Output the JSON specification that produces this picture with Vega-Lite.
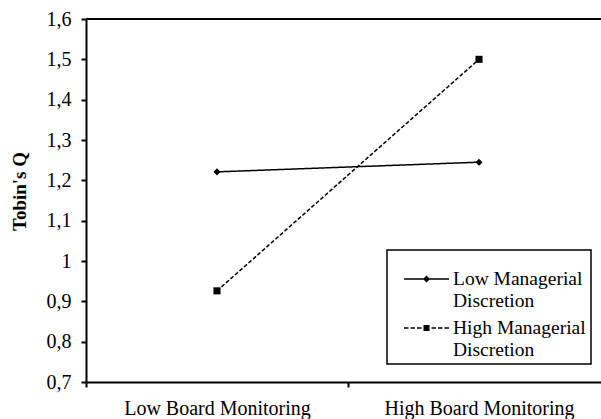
{
  "$schema": "https://vega.github.io/schema/vega-lite/v6.json",
  "width": 515,
  "height": 363,
  "autosize": {"type": "none"},
  "padding": {"left": 86, "top": 19, "right": 0, "bottom": 37},
  "background": "white",
  "config": {
    "view": {"stroke": null},
    "font": "Liberation Serif",
    "legend": {"strokeWidth": 1.5},
    "axis": {"labelFont": "Liberation Serif", "titleFont": "Liberation Serif", "labelColor": "black", "titleColor": "black", "domainColor": "black", "tickColor": "black", "domainWidth": 2, "tickWidth": 2, "tickSize": 5, "grid": false}
  },
  "data": {
    "values": [
      {"board": "Low Board Monitoring", "disc": "Low Managerial Discretion", "q": 1.221},
      {"board": "High Board Monitoring", "disc": "Low Managerial Discretion", "q": 1.245},
      {"board": "Low Board Monitoring", "disc": "High Managerial Discretion", "q": 0.926},
      {"board": "High Board Monitoring", "disc": "High Managerial Discretion", "q": 1.5}
    ]
  },
  "encoding": {
    "x": {
      "field": "board", "type": "nominal", "sort": ["Low Board Monitoring", "High Board Monitoring"],
      "scale": {"type": "band", "paddingInner": 0, "paddingOuter": 0, "range": [0, 524]},
      "axis": {"title": null, "labelAngle": 0, "labelFontSize": 20, "labelPadding": 11, "labelLimit": 400, "tickBand": "extent", "domainWidth": 2}
    },
    "y": {
      "field": "q", "type": "quantitative",
      "scale": {"domain": [0.7, 1.6], "nice": false, "zero": false},
      "axis": {"title": "Tobin's Q", "titleFontSize": 19, "titleFontWeight": "bold", "titleX": -67, "titleY": 172, "titleAngle": -90, "titleBaseline": "middle", "titleAlign": "center",
        "values": [0.7, 0.8, 0.9, 1.0, 1.1, 1.2, 1.3, 1.4, 1.5, 1.6],
        "labelExpr": "replace(format(datum.value, '.1~f'), '.', ',')", "labelFontSize": 20, "labelPadding": 10}
    }
  },
  "resolve": {"legend": {"strokeDash": "independent", "shape": "independent"}, "scale": {"shape": "independent"}},
  "layer": [
    {
      "mark": {"type": "rule", "color": "black", "strokeWidth": 2},
      "encoding": {"y": {"datum": 1.6}, "x": null}
    },
    {
      "mark": {"type": "line", "color": "black", "strokeWidth": 1.5},
      "encoding": {
        "detail": {"field": "disc"},
        "strokeDash": {"field": "disc", "type": "nominal", "scale": {"domain": ["Low Managerial Discretion", "High Managerial Discretion"], "range": [[1, 0], [4, 2]]}, "legend": null}
      }
    },
    {
      "mark": {"type": "point", "filled": true, "color": "black", "opacity": 1, "size": 50},
      "encoding": {
        "shape": {
          "field": "disc", "type": "nominal",
          "scale": {"domain": ["Low Managerial Discretion", "High Managerial Discretion"], "range": ["diamond", "square"]},
          "legend": null
        }
      }
    },
    {
      "transform": [{"filter": "datum.q > 100"}],
      "mark": {"type": "point", "filled": true, "color": "black", "opacity": 1},
      "encoding": {
        "shape": {
          "field": "disc", "type": "nominal",
          "scale": {"domain": ["Low Managerial Discretion", "High Managerial Discretion"],
            "range": [
              "M-0.52,-0.294H1.435V-0.228H-0.52ZM0.457,-0.413L0.609,-0.261L0.457,-0.109L0.305,-0.261Z",
              "M-0.522,-0.294H-0.326V-0.228H-0.522ZM-0.239,-0.294H-0.043V-0.228H-0.239ZM0.043,-0.294H0.239V-0.228H0.043ZM0.326,-0.391H0.587V-0.131H0.326ZM0.674,-0.294H0.87V-0.228H0.674ZM0.957,-0.294H1.152V-0.228H0.957ZM1.239,-0.294H1.435V-0.228H1.239Z"
            ]},
          "legend": {
            "title": " ", "titleFontSize": 1, "titlePadding": 5,
            "orient": "none", "legendX": 301, "legendY": 231,
            "strokeColor": "black", "padding": 5, "fillColor": "white",
            "symbolSize": 2116, "symbolFillColor": "black", "symbolOpacity": 1,
            "labelFontSize": 19.5, "labelFont": "Liberation Serif", "labelColor": "black",
            "labelBaseline": "alphabetic", "labelOffset": 13, "rowPadding": 0, "labelLimit": 300,
            "labelExpr": "datum.label == 'Low Managerial Discretion' ? ['Low Managerial', 'Discretion'] : ['High Managerial  ', 'Discretion']"
          }
        }
      }
    }
  ]
}
